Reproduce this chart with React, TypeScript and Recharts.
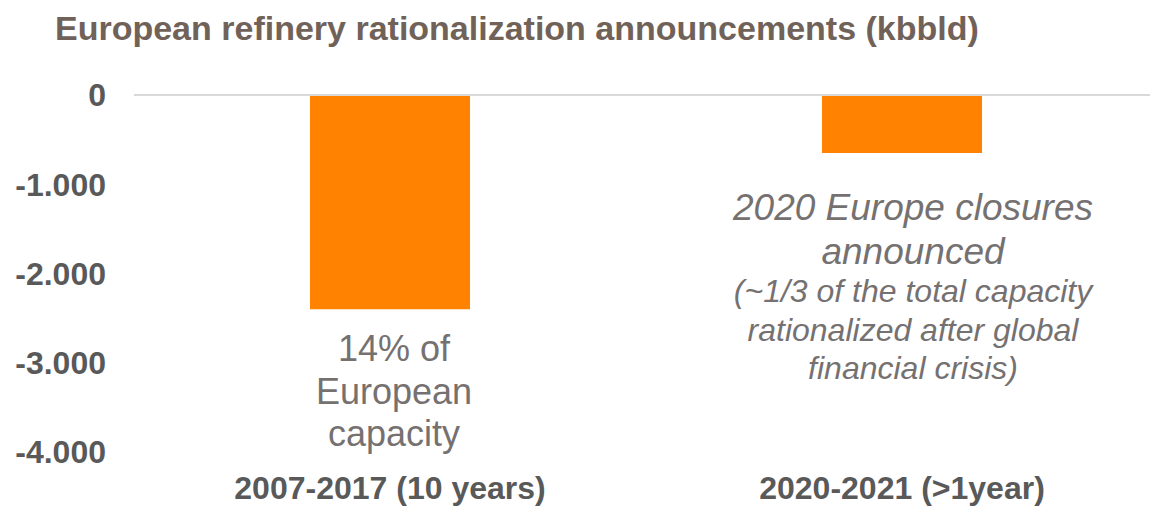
import React from "react";
import { BarChart, Bar, XAxis, YAxis, ReferenceLine, LabelList } from "recharts";

const categories = ["2007-2017 (10 years)", "2020-2021 (>1year)"];
const closures = [-2400, -650];
const yTicks = [0, -1000, -2000, -3000, -4000];
const noteLines = [
  ["14% of", "European", "capacity"],
  [
    "2020 Europe closures",
    "announced",
    "(~1/3 of the total capacity",
    "rationalized after global",
    "financial crisis)",
  ],
];

const data = categories.map((name, i) => ({ name, value: closures[i] }));

const FONT = '"Liberation Sans", Arial, sans-serif';

function NoteLabel(props: any) {
  const { x, y, width, height, index } = props;
  const bottom = Math.max(Number(y), Number(y) + Number(height));
  const cx = Number(x) + Number(width) / 2;
  const lines = noteLines[index] || [];

  if (index === 0) {
    return (
      <g>
        {lines.map((line, i) => (
          <text
            key={i}
            x={cx + 4}
            y={bottom + 52 + i * 42.5}
            textAnchor="middle"
            fontFamily={FONT}
            fontSize={36}
            fill="#767171"
          >
            {line}
          </text>
        ))}
      </g>
    );
  }

  const offsets = [67, 111, 149, 188, 226];
  return (
    <g>
      {lines.map((line, i) => (
        <text
          key={i}
          x={cx + 11}
          y={bottom + offsets[i]}
          textAnchor="middle"
          fontFamily={FONT}
          fontSize={i < 2 ? 37 : 32}
          fontStyle="italic"
          fill="#767171"
        >
          {line}
        </text>
      ))}
    </g>
  );
}

export default function App() {
  return (
    <div style={{ position: "absolute", left: 0, top: 0, width: 1150, height: 506, background: "#fff" }}>
      <div
        style={{
          position: "absolute",
          left: 55,
          top: 11,
          fontFamily: FONT,
          fontSize: 34,
          lineHeight: "34px",
          fontWeight: 700,
          color: "#716259",
          whiteSpace: "nowrap",
        }}
      >
        European refinery rationalization announcements (kbbld)
      </div>
      <BarChart
        width={1150}
        height={506}
        data={data}
        margin={{ top: 95, right: -8, bottom: 0, left: 0 }}
        style={{ fontFamily: FONT }}
      >
        <XAxis
          dataKey="name"
          height={54}
          interval={0}
          axisLine={false}
          tickLine={false}
          tickSize={0}
          tickMargin={24}
          tick={{ fontSize: 32, fontWeight: 700, fill: "#595959", fontFamily: FONT }}
        />
        <YAxis
          width={134}
          domain={[-4000, 0]}
          ticks={yTicks}
          axisLine={false}
          tickLine={false}
          tickSize={0}
          tickMargin={28}
          tickFormatter={(v: number) => v.toLocaleString("de-DE")}
          tick={{ fontSize: 32, fontWeight: 700, fill: "#595959", fontFamily: FONT }}
        />
        <ReferenceLine y={0} stroke="#d9d9d9" strokeWidth={2} />
        <Bar dataKey="value" fill="#ff8300" barSize={160} isAnimationActive={false}>
          <LabelList dataKey="value" content={NoteLabel} />
        </Bar>
      </BarChart>
    </div>
  );
}
